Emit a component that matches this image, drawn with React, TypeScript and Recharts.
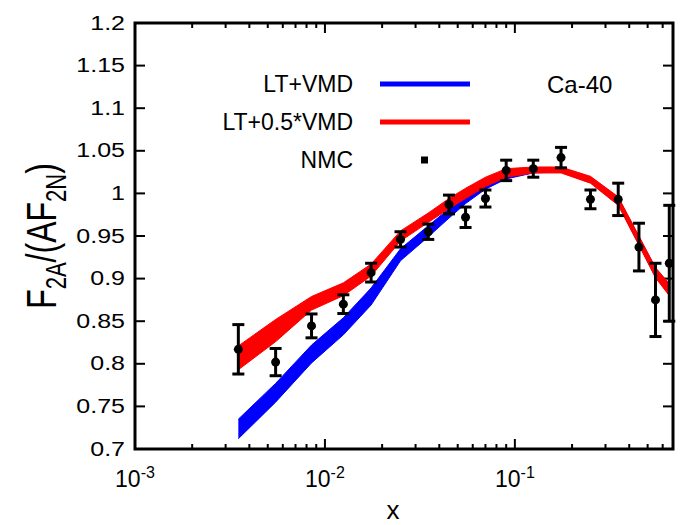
import React from 'react';
import { ComposedChart, Area, Scatter, ErrorBar, XAxis, YAxis, Customized } from 'recharts';

// x grid shared by the curves and the NMC points
const xs = [0.0035, 0.0055, 0.0085, 0.0125, 0.0175, 0.025, 0.035, 0.045, 0.055, 0.07, 0.09, 0.125, 0.175, 0.25, 0.35, 0.45, 0.55, 0.65];

// LT+VMD band
const blueLow = [0.712, 0.755, 0.801, 0.834, 0.869, 0.921, 0.949, 0.971, 0.988, 1.005, 1.017, 1.024, 1.025, 1.013, 0.987, 0.940, 0.902, 0.881];
const blueHigh = [0.735, 0.777, 0.822, 0.854, 0.889, 0.935, 0.962, 0.982, 0.997, 1.012, 1.024, 1.029, 1.029, 1.019, 0.995, 0.949, 0.912, 0.893];

// LT+0.5*VMD band
const redLow = [0.793, 0.826, 0.863, 0.880, 0.903, 0.944, 0.966, 0.982, 0.994, 1.008, 1.019, 1.024, 1.024, 1.012, 0.986, 0.939, 0.901, 0.880];
const redHigh = [0.821, 0.852, 0.879, 0.895, 0.917, 0.956, 0.977, 0.994, 1.006, 1.019, 1.029, 1.031, 1.031, 1.020, 0.996, 0.950, 0.913, 0.894];

// NMC data
const nmcY = [0.817, 0.802, 0.8445, 0.870, 0.907, 0.946, 0.955, 0.987, 0.972, 0.994, 1.027, 1.029, 1.042, 0.993, 0.993, 0.937, 0.875, 0.918];
const nmcErr = [0.029, 0.016, 0.014, 0.011, 0.011, 0.009, 0.009, 0.011, 0.012, 0.010, 0.012, 0.010, 0.012, 0.011, 0.019, 0.028, 0.043, 0.068];

const yTicks = [0.7, 0.75, 0.8, 0.85, 0.9, 0.95, 1, 1.05, 1.1, 1.15, 1.2];
const xTicks = [
  0.001, 0.002, 0.003, 0.004, 0.005, 0.006, 0.007, 0.008, 0.009,
  0.01, 0.02, 0.03, 0.04, 0.05, 0.06, 0.07, 0.08, 0.09,
  0.1, 0.2, 0.3, 0.4, 0.5, 0.6,
];
const xMajor = [0.001, 0.01, 0.1];
const X_DOMAIN = [0.001, 0.68];
const Y_DOMAIN = [0.7, 1.2];

const curves = xs.map((x, i) => ({ x, blue: [blueLow[i], blueHigh[i]], red: [redLow[i], redHigh[i]] }));
const nmc = xs.map((x, i) => ({ x, y: nmcY[i], err: nmcErr[i] }));

const legendItems = [
  { name: 'LT+VMD', color: '#0000ff', kind: 'line' },
  { name: 'LT+0.5*VMD', color: '#ff0000', kind: 'line' },
  { name: 'NMC', color: '#000000', kind: 'point' },
];

const FONT = '"Liberation Sans", Arial, sans-serif';
const W = 689;
const H = 525;
const MARGIN = { top: 23, right: 16, bottom: 76, left: 135 };
const PL = MARGIN.left;
const PR = W - MARGIN.right;
const PT = MARGIN.top;
const PB = H - MARGIN.bottom;
const MAJOR = 10;
const MINOR = 5;

const isMajor = (v: number) => xMajor.some(m => Math.abs(m - v) < 1e-9);
// same mapping as the hidden axes (log x, linear y), used for the frame ticks only
const lx0 = Math.log10(X_DOMAIN[0]);
const lx1 = Math.log10(X_DOMAIN[1]);
const tx = (v: number) => PL + ((Math.log10(v) - lx0) / (lx1 - lx0)) * (PR - PL);
const ty = (v: number) => PB - ((v - Y_DOMAIN[0]) / (Y_DOMAIN[1] - Y_DOMAIN[0])) * (PB - PT);

const Decorations = () => (
  <g fontFamily={FONT} fill="#000">
    {xTicks.map(v => {
      const x = tx(v);
      const len = isMajor(v) ? MAJOR : MINOR;
      return (
        <g key={`x${v}`}>
          <line x1={x} y1={PB} x2={x} y2={PB - len} stroke="#000" strokeWidth={2} />
          <line x1={x} y1={PT} x2={x} y2={PT + len} stroke="#000" strokeWidth={2} />
          {isMajor(v) && (
            <text x={x} y={PB + 38} textAnchor="middle" fontSize={23}>
              10<tspan dy={-9} fontSize={16}>{Math.round(Math.log10(v))}</tspan>
            </text>
          )}
        </g>
      );
    })}
    {yTicks.map(v => {
      const y = ty(v);
      return (
        <g key={`y${v}`}>
          <line x1={PL} y1={y} x2={PL + MAJOR} y2={y} stroke="#000" strokeWidth={2} />
          <line x1={PR} y1={y} x2={PR - MAJOR} y2={y} stroke="#000" strokeWidth={2} />
          <text transform={`translate(${PL - 10},${y}) scale(1.25,1)`} textAnchor="end"
            dominantBaseline="central" fontSize={20}>
            {String(+v.toFixed(2))}
          </text>
        </g>
      );
    })}
    <rect x={PL} y={PT} width={PR - PL} height={PB - PT} fill="none" stroke="#000" strokeWidth={3} />
    {legendItems.map((it, i) => {
      const cy = 84 + i * 38;
      return (
        <g key={it.name}>
          <text x={353} y={cy} textAnchor="end" dominantBaseline="central" fontSize={23}>{it.name}</text>
          {it.kind === 'line' ? (
            <line x1={380} y1={cy} x2={470} y2={cy} stroke={it.color} strokeWidth={5} />
          ) : (
            <rect x={421} y={cy - 3.5} width={7} height={7} fill={it.color} />
          )}
        </g>
      );
    })}
    <text x={547} y={84} dominantBaseline="central" fontSize={24}>Ca-40</text>
    <text x={393} y={519} textAnchor="middle" fontSize={26}>x</text>
    <text transform="translate(56,236) scale(1.3,1) rotate(-90)" textAnchor="middle" fontSize={32}>
      F<tspan dy={8} fontSize={22}>2A</tspan><tspan dy={-8}>/(AF</tspan>
      <tspan dy={8} fontSize={22}>2N</tspan><tspan dy={-8}>)</tspan>
    </text>
  </g>
);

const Dot = (props: any) => <circle cx={props.cx} cy={props.cy} r={4.5} fill="#000" />;

export default function App() {
  return (
    <div style={{ position: 'absolute', left: 0, top: 0, background: '#fff' }}>
      <ComposedChart width={W} height={H} data={curves} margin={MARGIN}>
        <XAxis xAxisId="b" dataKey="x" type="number" scale="log" domain={X_DOMAIN} allowDataOverflow hide />
        <YAxis yAxisId="l" dataKey="y" type="number" domain={Y_DOMAIN} allowDataOverflow hide />
        <Area xAxisId="b" yAxisId="l" type="linear" dataKey="blue" fill="#0000ff" fillOpacity={1}
          stroke="#0000ff" strokeWidth={1} isAnimationActive={false} dot={false} activeDot={false} />
        <Area xAxisId="b" yAxisId="l" type="linear" dataKey="red" fill="#ff0000" fillOpacity={1}
          stroke="#ff0000" strokeWidth={1} isAnimationActive={false} dot={false} activeDot={false} />
        <Scatter xAxisId="b" yAxisId="l" data={nmc} dataKey="y" shape={<Dot />} isAnimationActive={false}>
          <ErrorBar dataKey="err" direction="y" width={6} stroke="#000" strokeWidth={3} />
        </Scatter>
        <Customized component={Decorations} />
      </ComposedChart>
    </div>
  );
}
